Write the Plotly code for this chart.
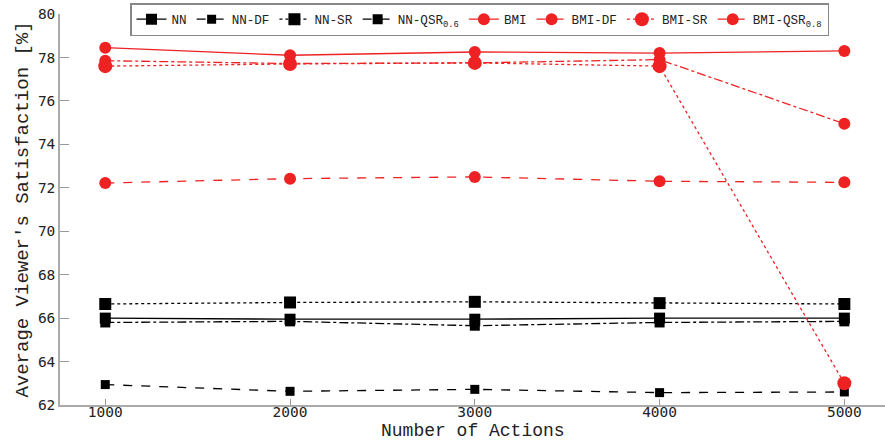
import plotly.graph_objects as go

actions = [1000, 2000, 3000, 4000, 5000]

nn = [66.0, 65.95, 65.95, 66.0, 66.0]
nn_df = [62.94, 62.63, 62.72, 62.57, 62.6]
nn_sr = [66.65, 66.72, 66.75, 66.69, 66.65]
nn_qsr = [65.8, 65.85, 65.65, 65.8, 65.85]

bmi = [78.45, 78.1, 78.25, 78.2, 78.3]
bmi_df = [72.22, 72.42, 72.5, 72.3, 72.25]
bmi_sr = [77.6, 77.7, 77.75, 77.6, 63.0]
bmi_qsr = [77.85, 77.72, 77.75, 77.9, 74.95]

names = ["NN", "NN-DF", "NN-SR", "NN-QSR<sub>0.6</sub>",
         "BMI", "BMI-DF", "BMI-SR", "BMI-QSR<sub>0.8</sub>"]

BLACK = "#000000"
RED = "#ee2222"

series = [
    (nn, names[0], BLACK, "solid", "square", 11),
    (nn_df, names[1], BLACK, "dash", "square", 9),
    (nn_sr, names[2], BLACK, "dot", "square", 12),
    (nn_qsr, names[3], BLACK, "dashdot", "square", 10),
    (bmi, names[4], RED, "solid", "circle", 12),
    (bmi_df, names[5], RED, "dash", "circle", 12),
    (bmi_sr, names[6], RED, "dot", "circle", 14),
    (bmi_qsr, names[7], RED, "dashdot", "circle", 12),
]

fig = go.Figure()
for vals, name, color, dash, symbol, size in series:
    fig.add_trace(go.Scatter(
        x=actions, y=vals, name=name, mode="lines+markers",
        line=dict(color=color, width=1.3, dash=dash),
        marker=dict(symbol=symbol, size=size, color=color),
    ))

axis_font = dict(family="DejaVu Sans Mono", size=14.5, color="#222222")
title_font = dict(family="Liberation Mono", size=19, color="#222222")

fig.update_layout(
    width=885, height=443,
    margin=dict(l=60, r=0, t=14, b=38, autoexpand=False),
    paper_bgcolor="white", plot_bgcolor="white",
    showlegend=True,
    legend=dict(
        orientation="h", x=130 / 885, xanchor="left", xref="container",
        y=1 - 3 / 443, yanchor="top", yref="container",
        bgcolor="white", bordercolor="#888888", borderwidth=1.5,
        font=dict(family="Liberation Mono", size=12.6, color="#222222"),
        tracegroupgap=0,
    ),
    xaxis=dict(
        range=[755, 5220], tickvals=actions, ticktext=[str(a) for a in actions],
        showgrid=False, zeroline=False, showline=True, linecolor="#aaaaaa",
        linewidth=1.5, ticks="inside", ticklen=6, tickcolor="#999999",
        tickfont=axis_font, ticklabelstandoff=-7,
    ),
    yaxis=dict(
        range=[62, 80], dtick=2,
        showgrid=False, zeroline=False, showline=True, linecolor="#aaaaaa",
        linewidth=1.5, ticks="inside", ticklen=9, tickcolor="#999999",
        tickfont=axis_font,
        title=dict(text="Average Viewer's Satisfaction [%]", font=title_font, standoff=4),
    ),
    annotations=[dict(
        text="Number of Actions", xref="paper", yref="paper",
        x=0.5, y=-0.066, xanchor="center", yanchor="middle",
        showarrow=False, font=dict(family="Liberation Mono", size=18, color="#222222"),
    )],
)

fig.write_html("out.html")
